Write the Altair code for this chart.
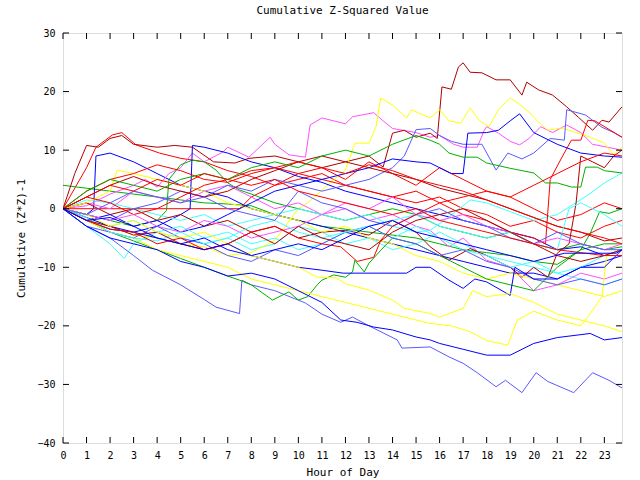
import altair as alt
import pandas as pd

hour_ticks = list(range(24))
value_ticks = [-40, -30, -20, -10, 0, 10, 20, 30]

# ---- series: (hour, cumulative value) ----
r1 = [(0,0),(1,7),(1.4,10.5),(2.1,12.6),(2.5,13),(3.1,10.9),(4.1,9.5),(5,8.6),(6,8),(7,6.5),(8,5.5),(9,4),(10,5),(11,6),(12,4),(13,3),(14,2),(15,1),(16,2),(17,0),(18,-1),(19,-3),(20,-2),(21,-4),(22,-5),(23,-3),(23.75,-2)]
r2 = [(0,0),(7.5,0),(8,2),(9,4),(10,6),(11,7),(12,5),(13,8),(14,6),(15,4),(16,7),(17,5),(18,3),(19,2),(20,0),(21,-2),(22,-1),(23,1),(23.75,0)]
r3 = [(0,0),(1,2),(2,1),(3,-1),(4,0),(5,2),(6,4),(7,5),(8,6.5),(9,7),(10,6),(11,5),(12,4),(13,3),(14,2),(15,3),(16,1),(17,-1),(18,-2),(19,-4),(20,-5),(20.5,-6),(20.7,5),(21.2,8.8),(21.6,11.7),(22,11.7),(22.3,15.1),(22.6,15),(23.75,12.2)]
r4 = [(0,0),(1,3),(2,5),(3,6),(4,7.5),(5,6.5),(6,5),(7,4.5),(8,6),(9,7),(10,8),(11,7),(12,6),(13,7.5),(14,6.5),(15,5),(16,4),(17,3),(18,1.5),(19,0),(20,-1.5),(21,-3),(22,-4),(23,-5),(23.75,-6)]
r5 = [(0,0),(1,-2),(2,-3.5),(3,-4),(4,-6),(5,-5),(6,-7),(7,-6),(8,-4),(9,-3),(10,-5),(11,-6),(11.8,-6.5),(12.5,-9),(13.2,-8.3),(13.5,-5.4),(14,-3),(15,-1),(16,1),(17,2),(18,3),(19,2),(20,4),(21,6),(22,8),(23,9.5),(23.75,9)]
r6 = [(0,0),(1,2),(2,4),(3,3),(4,5),(5,4),(6,6),(7,5),(8,4),(9,5),(10,3),(11,2),(12,1),(13,0),(14,-1),(15,0),(16,-2),(17,-3),(18,-4),(19,-5),(20,-6),(21,-7),(22,-7.5),(23,-8),(23.75,-8)]

g1 = [(0,4),(1,3.5),(2,3),(3,2.5),(4,2),(5,1.5),(6,1),(7,0.8),(8,0.5),(9,-1),(10,-2),(11,-3),(12,-3.5),(13,-4),(14,-4.5),(15,-5),(16,-6),(17,-7),(18,-7.5),(19,-8),(20,-9),(21,-9.5),(22,-7),(23,-6),(23.75,-6)]
g2 = [(0,0),(1,-1),(2,-2),(3,-3),(4,-2),(4.4,-0.3),(4.5,5),(5,7.5),(5.5,8.3),(6,8),(6.5,6.6),(7,4.4),(7.5,3.2),(8,2.5),(9,1),(10,0),(11,-1),(12,-2),(13,-1),(14,0),(15,-1),(16,-3),(17,-4),(18,-5),(19,-4),(20,-6),(21,-7),(22,-6),(23,-7),(23.75,-6.5)]
g3 = [(0,0),(1,-2),(2,-4),(3,-5.5),(4,-7),(5,-8.5),(6,-10),(7,-11.5),(7.5,-12.2),(8,-13),(8.9,-15.6),(9.3,-14.8),(9.6,-14.2),(10,-15.6),(10.4,-15),(10.8,-13),(11,-12.2),(11.5,-11.3),(12,-11.7),(12.3,-10.8),(12.4,-8.8),(12.8,-10.8),(13,-9.3),(13.5,-7.1),(14,-5),(15,-6),(16,-8),(17,-10),(18,-12),(19,-13),(20,-14),(21,-10),(22,-7),(22.4,-4.2),(22.8,-0.5),(23.2,-0.8),(23.75,0)]
g4 = [(0,0),(1,3),(2,5),(3,4),(4,3),(5,5),(6,6),(7,5),(8,7),(9,8),(10,7),(11,9),(12,10),(13,9),(14,11),(15,12.5),(15.6,11.7),(16,11),(16.4,9.5),(17,8.8),(17.6,8.8),(18,7.8),(19,6.9),(20,6.1),(20.5,4.4),(21,4.4),(21.6,3.7),(22,3.7),(22.2,7.1),(22.7,7.1),(23,6.5),(23.75,6.1)]

b1 = [(0,0),(1,-1),(1.3,0),(1.4,9),(2,9.5),(3,8),(4,6),(5,4),(6,3),(7,2),(8,0),(9,-1),(10,-2),(11,-3),(12,-4),(13,-5),(14,-6),(15,-7),(16,-8),(17,-9),(18,-10),(19,-11),(20,-11),(21,-12),(22,-10),(23,-9),(23.75,-8)]
b2 = [(0,0),(1,-2),(2,-3.5),(3,-4),(4,-3),(5,-1),(5.4,0),(5.5,10.8),(6,10.5),(7,9.5),(8,8),(9,7),(10,5.5),(11,4.5),(12,3),(13,2),(14,1),(15,0),(16,-1),(17,-2),(18,-3),(19,-4),(20,-5),(21,-7),(22,-6.5),(23,-8),(23.75,-7)]
b3 = [(0,0),(1,-2),(2,-1),(3,-3),(4,-2),(5,-4),(6,-3),(7,-1),(8,1),(9,3),(10,4),(11,5),(12,6),(13,7),(14,8.5),(15,8),(15.6,7.8),(16.5,6),(17,6),(17.2,12.9),(18,13),(18.5,13.4),(19,15),(19.4,16.2),(20,13),(21,11),(22,9.5),(23,9),(23.75,8.8)]
b4 = [(0,0),(1,-1.5),(2,-3),(3,-4),(4,-5),(5,-6),(6,-5),(7,-7),(8,-8),(9,-9),(10,-10),(11,-10.5),(11.9,-11),(14.6,-11),(15,-10),(15.6,-10),(16.4,-12.2),(17,-13.6),(17.5,-12),(18,-12.5),(19,-14.8),(19.2,-10),(20,-12),(21,-12),(22,-10),(23,-10),(23.75,-7)]
b5 = [(0,0),(1,-3),(2,-5),(3,-6),(4,-7),(5,-9),(6,-10),(7,-11.5),(8,-11),(9,-12),(10,-14),(11,-16),(11.8,-19),(12.5,-19.4),(13.2,-20.2),(14,-20.7),(15,-21.9),(15.6,-22.4),(16,-23),(17,-24),(18,-25),(19,-25),(20,-23),(21,-22),(22.4,-21.3),(23,-22.4),(23.75,-22)]
b6 = [(0,0),(1,-2),(2,-1.5),(3,-3),(4,-5),(5,-6),(6,-7),(7,-6),(8,-8),(9,-7),(10,-6),(11,-7),(12,-5),(13,-3),(14,-2),(15,-4),(16,-5),(17,-6),(18,-7),(19,-8),(20,-9),(21.3,-7.6),(23.5,-7.6),(23.75,-7)]

m1 = [(0,0),(1,0.5),(2,2.5),(3,4),(3.5,5),(4,3.7),(4.5,6),(5,7),(5.5,9.5),(6,8),(6.8,9.7),(7,10.5),(7.9,8.8),(8.8,12.2),(9,11),(9.6,9.2),(10.3,8.8),(10.5,14.3),(11,15.5),(12,14.5),(12.3,15.7),(13.2,16.4),(13.6,15),(14,13.7),(15,13),(15.6,12.2),(16,12.5),(16.6,11),(17,10.5),(17.6,10.5),(17.9,13.4),(18,14),(18.5,12.9),(19,11.5),(19.4,10.9),(19.8,12),(20.3,14),(20.8,13),(21.4,14.3),(22,13),(22.5,11),(23.75,10)]
m2 = [(0,0),(1,1),(2,0),(3,3),(4,2),(5,1),(6,3),(7,4),(8,2),(9,0),(10,1),(11,-1),(12,0),(13,-2),(14,-1),(15,-3),(15.6,-3.7),(16.4,-6.5),(17,-5),(18,-8.8),(19,-10),(19.5,-12),(20,-14),(21,-13),(22,-11),(23,-12),(23.75,-11)]
m3 = [(0,0),(1,-1),(2,-2),(3,-1),(4,-3),(5,-4),(6,-2),(7,-3),(8,-5),(9,-4),(10,-3),(11,-1),(12,1),(13,0),(14,2),(15,-1),(16,-2),(17,-1),(18,-3),(19,-4),(20,-6),(21,-5),(22,-6),(23,-7),(23.75,-6)]

c1 = [(0,0),(1,-3),(2,-6),(2.6,-8.5),(3,-6),(4,-4),(5,-5),(6,-6),(7,-5),(8,-7),(9,-6),(10,-3),(11,-4),(12,-6),(13,-5),(14,-7),(15,-6),(16,-4),(17,-6),(18,-8),(19,-9),(20,-10),(21,-11),(22,-12),(23,-13),(23.75,-12)]
c2 = [(0,0),(1,1.5),(2,1),(3,0),(4,-1),(5,-2),(6,-1),(7,-3),(8,-2),(9,-1),(10,0),(11,-1),(12,-2),(13,-1),(14,-3),(15,-4),(15.6,-3.7),(16.4,-1.4),(17.3,1.5),(18,1),(19,-0.5),(20,-2),(21,-1),(22.4,2.6),(23,4.4),(23.75,6.1)]
c3 = [(0,0),(1,-2),(2,-3),(3,-2),(4,-4),(5,-3),(6,-5),(7,-4),(8,-6),(9,-5),(10,-7),(11,-6),(12,-4),(13,-3),(14,-5),(15,-3),(16,-5),(17,-7),(18,-8),(19,-10),(20,-9),(21,-11),(22,-10),(23,-8),(23.75,-7)]
c4 = [(0,0),(1,-1.5),(2,-4),(3,-5),(4,-5.5),(5,-4),(6,-6),(7,-5),(8,-3),(9,-2),(10,-4),(11,-5),(12,-4),(13,-3),(14,-2),(15,-1),(16,-3),(17,-4),(18,-5),(19,-4),(20,-6),(21,-7),(21.5,0),(22,1),(23,-1),(23.75,-3)]

d1 = [(0,0),(0.5,6),(1,10.8),(1.5,10.5),(2,12),(2.5,12.5),(3,11),(4,10.5),(4.75,10.8),(5.5,10.5),(6.4,8),(7.3,7.8),(7.9,8.6),(9,9),(10,8),(11,7),(12,8),(13,9),(13.6,7.1),(14,12.9),(14.5,13.4),(15,12.2),(15.6,12.9),(15.9,12),(16.1,20.8),(16.5,20.4),(16.8,24.2),(17,24.9),(17.3,23.3),(17.8,23.2),(18.4,22),(19,22),(19.5,19.4),(19.7,21.6),(20.2,20.3),(20.8,19.4),(21.4,17.4),(21.9,15.6),(22.5,13.4),(22.9,15.1),(23.2,14.8),(23.75,17.4)]
d2 = [(0,0),(1,1),(2,-1),(3,0),(4,-2),(5,-1),(6,-3),(7,-2),(8,-4),(9,-3),(10,-5),(11,-4),(12,-3.7),(13,-4.5),(14,-2),(15,-4),(15.6,-6.5),(16.4,-8.8),(17.3,-6.8),(18,-8),(19,-10),(19.5,-11.7),(20,-10),(20.6,-11.7),(21,-7.6),(21.5,-6),(21.8,1),(22,9),(22.5,8),(23,7),(23.4,9),(23.75,10)]
d3 = [(0,0),(1,2),(2,4),(3,5.5),(4,4),(5,3),(6,2),(7,3),(8,5),(9,6.5),(10,8),(11,9),(12,8),(13,7),(14,6),(15,5),(16,3.5),(17,2.5),(18,1.5),(19,0),(20,-1.5),(21,-3),(22,-4),(23,-5.5),(23.75,-5)]
d4 = [(0,0),(1,-2),(2,-3),(3,-4.5),(4,-4),(5,-6),(6,-7),(7,-6),(8,-4),(9,-6),(10,-3),(11,-5),(12,-6),(13,-7),(14,-4),(15,-2),(16,-1),(17,0),(18,-2),(19,-4),(20,-6),(21,-8),(22,-9),(23,-8),(23.75,-7)]

y1 = [(0,0),(1,-2),(2,-3),(3,-4.5),(4,-5),(5,-6),(6,-6.5),(7,-8),(8,-7.5),(9,-5.4),(10,0),(10.4,1),(11,3.2),(11.5,4.9),(12,6.6),(12.4,11.2),(13,11.2),(13.3,14),(13.5,18.9),(14,17.7),(14.6,15.5),(14.8,16.9),(15.6,15.5),(16,16.9),(16.4,15),(16.9,14.6),(17.3,17.2),(17.7,15),(18.1,14),(18.5,16.9),(19,18.9),(19.4,17.8),(19.8,16.5),(20.2,14.8),(20.6,13.4),(21.2,13.8),(21.8,13),(22.4,12.2),(23,11.2),(23.4,9.2),(23.75,10.5)]
y2 = [(0,0),(1,1),(2,3),(2.3,6.6),(3,6),(4,5),(5,4),(6,3),(7,1),(8,0),(9,-1),(10,-2),(11,-4),(12,-3),(13,-5),(14,-6),(15,-8),(16,-9),(17,-11),(18,-12),(19,-11),(20,-12),(21,-13),(22,-14),(23,-15),(23.75,-14)]
y3 = [(0,0),(1,-2),(2,-4),(3,-5),(4,-7),(5,-8),(6,-9),(7,-10),(8,-12),(9,-13),(10,-14),(11,-15),(12,-16),(13,-17),(14,-18),(15,-19),(15.6,-19.6),(16.5,-20),(17.3,-21),(18,-22.5),(18.9,-23.3),(19.3,-19),(20,-17.5),(21,-19),(22,-20),(22.4,-17.9),(22.9,-15),(23.1,-7.9),(23.75,-7.1)]
y4 = [(0,0),(1,-1),(2,-3),(3,-2),(4,-4),(5,-5),(6,-4),(7,-6),(8,-8),(9,-9),(10,-10),(10.8,-11.7),(11.6,-11.8),(12,-12.8),(13,-13.9),(14,-15.6),(14.5,-17),(15.6,-17.9),(16,-18.5),(17,-17),(17.4,-14),(18,-15),(19,-14.5),(20,-16),(21,-18),(22,-19),(23,-20),(23.75,-21)]

l1 = [(0,0),(1,-3),(2,-5),(3,-8),(3.8,-10.5),(5,-13),(6,-15.5),(6.5,-16.8),(7.5,-17.9),(7.6,-12.2),(8,-13),(9,-14),(10.3,-16.1),(11,-18),(11.8,-19.4),(12.3,-18.5),(13,-20),(14.2,-22.4),(14.4,-23.8),(15.6,-23.6),(16.4,-25.3),(17,-26.4),(17.6,-28),(18.4,-30.4),(18.8,-29.3),(19.5,-31.4),(20.1,-28),(20.6,-29.5),(21.7,-31.4),(22.5,-28),(23.2,-29.3),(23.75,-30.6)]
l2 = [(0,0),(1,-1),(2,-2),(3,0),(4,1),(5,3),(6,2),(7,4),(8,3),(9,5),(10,4),(11,3),(12,4),(13,5),(14,7),(14.5,9),(15,13.5),(15.6,13.7),(16,12.5),(16.5,11.5),(17,11),(17.8,11),(18.4,6.6),(18.9,9.5),(19.5,8.5),(20,9.5),(20.7,12),(21.3,11.7),(21.4,16.9),(22.2,16),(22.9,13.9),(23.4,13),(23.75,12.2)]
l3 = [(0,0),(1,-3),(2,-4),(3,-5),(4,-3),(5,-5),(6,-6),(7,-8),(8,-9),(9,-7),(10,-8),(11,-6),(12,-4),(13,-3),(14,-5),(15,-6),(16,-8),(17,-7),(18,-9),(19,-10),(20,-12),(21,-13),(22,-12),(23,-13),(23.75,-12)]
l4 = [(0,0),(1,-1),(2,1),(3,3),(4,2),(5,1),(6,2),(7,0),(8,-1),(9,-2),(10,3),(11,1),(12,0),(13,-2),(14,-3),(15,-1),(16,0),(17,-2),(18,-3),(19,-5),(20,-6),(21,-4),(22,-6),(23,-7),(23.75,-7)]

palette = {
    "red": "#ff0000", "green": "#00b000", "blue": "#0000ff", "magenta": "#ff50ff",
    "cyan": "#40ffff", "darkred": "#b00000", "yellow": "#ffff00", "lightblue": "#5a5aff",
}

lines = [
    ("r1", "red", r1), ("g1", "green", g1), ("b1", "blue", b1), ("m1", "magenta", m1),
    ("c1", "cyan", c1), ("d1", "darkred", d1), ("y1", "yellow", y1), ("l1", "lightblue", l1),
    ("r2", "red", r2), ("g2", "green", g2), ("b2", "blue", b2), ("m2", "magenta", m2),
    ("c2", "cyan", c2), ("d2", "darkred", d2), ("y2", "yellow", y2), ("l2", "lightblue", l2),
    ("r3", "red", r3), ("g3", "green", g3), ("b3", "blue", b3), ("m3", "magenta", m3),
    ("c3", "cyan", c3), ("d3", "darkred", d3), ("y3", "yellow", y3), ("l3", "lightblue", l3),
    ("r4", "red", r4), ("g4", "green", g4), ("b4", "blue", b4),
    ("c4", "cyan", c4), ("d4", "darkred", d4), ("y4", "yellow", y4), ("l4", "lightblue", l4),
    ("r5", "red", r5), ("b5", "blue", b5), ("r6", "red", r6), ("b6", "blue", b6),
]

rows = []
for name, col, pts in lines:
    for i, (h, v) in enumerate(pts):
        rows.append({"line": name, "h": h, "v": v, "i": i})
df = pd.DataFrame(rows)
names = [n for n, _, _ in lines]
cols = [palette[c] for _, c, _ in lines]

W, H = 559, 410
FONT = "DejaVu Sans Mono"
xs = alt.Scale(domain=[0, 23.75], nice=False, zero=False)
ys = alt.Scale(domain=[-40, 30], nice=False, zero=False)

x_axis = alt.Axis(
    values=hour_ticks, ticks=False, domain=False, grid=False, labelFlush=False,
    labelFont=FONT, labelFontSize=10, labelColor="black", labelPadding=7,
    title="Hour of Day", titleFont=FONT, titleFontSize=11, titleFontWeight="normal",
    titleColor="black", titlePadding=6)
y_axis = alt.Axis(
    values=value_ticks, ticks=False, domain=False, grid=False, labelFlush=False,
    labelFont=FONT, labelFontSize=10, labelColor="black", labelPadding=8,
    title="Cumulative (Z*Z)-1", titleFont=FONT, titleFontSize=11, titleFontWeight="normal",
    titleColor="black", titlePadding=10)

series = alt.Chart(df).mark_line(strokeWidth=1, clip=True).encode(
    x=alt.X("h:Q", scale=xs, axis=x_axis),
    y=alt.Y("v:Q", scale=ys, axis=y_axis),
    color=alt.Color("line:N", scale=alt.Scale(domain=names, range=cols), legend=None),
    order=alt.Order("i:Q"),
)

xt = pd.DataFrame({"h": hour_ticks})
yt = pd.DataFrame({"v": value_ticks})
TL = 6
xb = alt.Chart(xt).mark_rule(color="black", strokeWidth=1).encode(
    x=alt.X("h:Q", scale=xs, axis=x_axis), y=alt.value(H), y2=alt.value(H - TL))
xtop = alt.Chart(xt).mark_rule(color="black", strokeWidth=1).encode(
    x=alt.X("h:Q", scale=xs, axis=x_axis), y=alt.value(0), y2=alt.value(TL))
yl = alt.Chart(yt).mark_rule(color="black", strokeWidth=1).encode(
    y=alt.Y("v:Q", scale=ys, axis=y_axis), x=alt.value(0), x2=alt.value(TL))
yr = alt.Chart(yt).mark_rule(color="black", strokeWidth=1).encode(
    y=alt.Y("v:Q", scale=ys, axis=y_axis), x=alt.value(W), x2=alt.value(W - TL))

chart = alt.layer(series, xb, xtop, yl, yr).properties(
    width=W, height=H,
    title=alt.Title("Cumulative Z-Squared Value", font=FONT, fontSize=11,
                    fontWeight="normal", color="black", anchor="middle", offset=12),
    padding={"left": 63, "top": 33, "right": 18, "bottom": 37},
    autosize=alt.AutoSizeParams(type="none"),
).configure_view(stroke="black", strokeWidth=1).configure(background="white")

chart.save("out.html", embed_options={"renderer": "svg", "actions": False})
